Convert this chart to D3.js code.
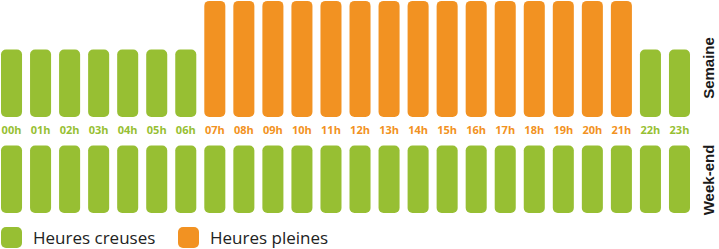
<!DOCTYPE html>
<html>
<head>
<meta charset="utf-8">
<script src="https://cdn.jsdelivr.net/npm/d3@7"></script>
<style>
  body { margin: 0; background: #fff; }
  svg { display: block; }
</style>
</head>
<body>
<svg></svg>
<script>
// hours of the day
var hours = ["00h","01h","02h","03h","04h","05h","06h","07h","08h","09h","10h","11h",
             "12h","13h","14h","15h","16h","17h","18h","19h","20h","21h","22h","23h"];
// tariff type per hour, weekdays and weekend
var semaine = ["c","c","c","c","c","c","c","p","p","p","p","p",
               "p","p","p","p","p","p","p","p","p","p","c","c"];
var weekend = ["c","c","c","c","c","c","c","c","c","c","c","c",
               "c","c","c","c","c","c","c","c","c","c","c","c"];
// relative bar height per tariff
var heights = { c: 1, p: 1.72 };
var rows = ["Semaine", "Week-end"];
var legendLabels = { c: "Heures creuses", p: "Heures pleines" };
var colors = { c: "#97bf33", p: "#f29222" };

var svgWidth = 719, svgHeight = 249;
var svg = d3.select("svg").attr("width", svgWidth).attr("height", svgHeight);

var x = d3.scaleBand().domain(hours).range([1, 690]).paddingInner(8 / 29).paddingOuter(0);

// each row has its own baseline
var rowBase = { "Semaine": 117, "Week-end": 213 };
var rowTitleY = { "Semaine": 68, "Week-end": 180 };
var unit = 67.5;
function yScale(row) {
  return d3.scaleLinear().domain([0, 1]).range([rowBase[row], rowBase[row] - unit]);
}

[semaine, weekend].forEach(function(data, r) {
  var row = rows[r];
  var y = yScale(row);
  var g = svg.append("g");
  g.selectAll("rect")
    .data(data)
    .enter().append("rect")
    .attr("x", function(d, i) { return x(hours[i]); })
    .attr("width", x.bandwidth())
    .attr("y", function(d) { return y(heights[d]); })
    .attr("height", function(d) { return y(0) - y(heights[d]); })
    .attr("rx", 5).attr("ry", 5)
    .attr("fill", function(d) { return colors[d]; });

  // row title, rotated
  svg.append("text")
    .attr("transform", "translate(714," + rowTitleY[row] + ") rotate(-90)")
    .attr("text-anchor", "middle")
    .style("font-family", "Liberation Sans, Arial, sans-serif")
    .style("font-weight", "bold")
    .style("font-size", "15px")
    .attr("fill", "#1a1a1a")
    .text(row);
});

// hour labels between the two rows
svg.append("g").selectAll("text")
  .data(hours)
  .enter().append("text")
  .attr("x", function(d) { return x(d) + x.bandwidth() / 2; })
  .attr("y", 134)
  .attr("text-anchor", "middle")
  .style("font-family", "Open Sans, sans-serif")
  .style("font-weight", "700")
  .style("font-size", "11px")
  .attr("fill", function(d, i) { return colors[semaine[i]]; })
  .text(function(d) { return d; });

// legend
var legend = svg.append("g").selectAll("g")
  .data(["c", "p"])
  .enter().append("g")
  .attr("transform", function(d, i) { return "translate(" + (1 + i * 177) + ",227)"; });
legend.append("rect")
  .attr("width", 21).attr("height", 21)
  .attr("rx", 5).attr("ry", 5)
  .attr("fill", function(d) { return colors[d]; });
legend.append("text")
  .attr("x", 32)
  .attr("y", 17)
  .style("font-family", "Open Sans, sans-serif")
  .style("font-size", "17px")
  .attr("fill", "#222")
  .text(function(d) { return legendLabels[d]; });
</script>
</body>
</html>
